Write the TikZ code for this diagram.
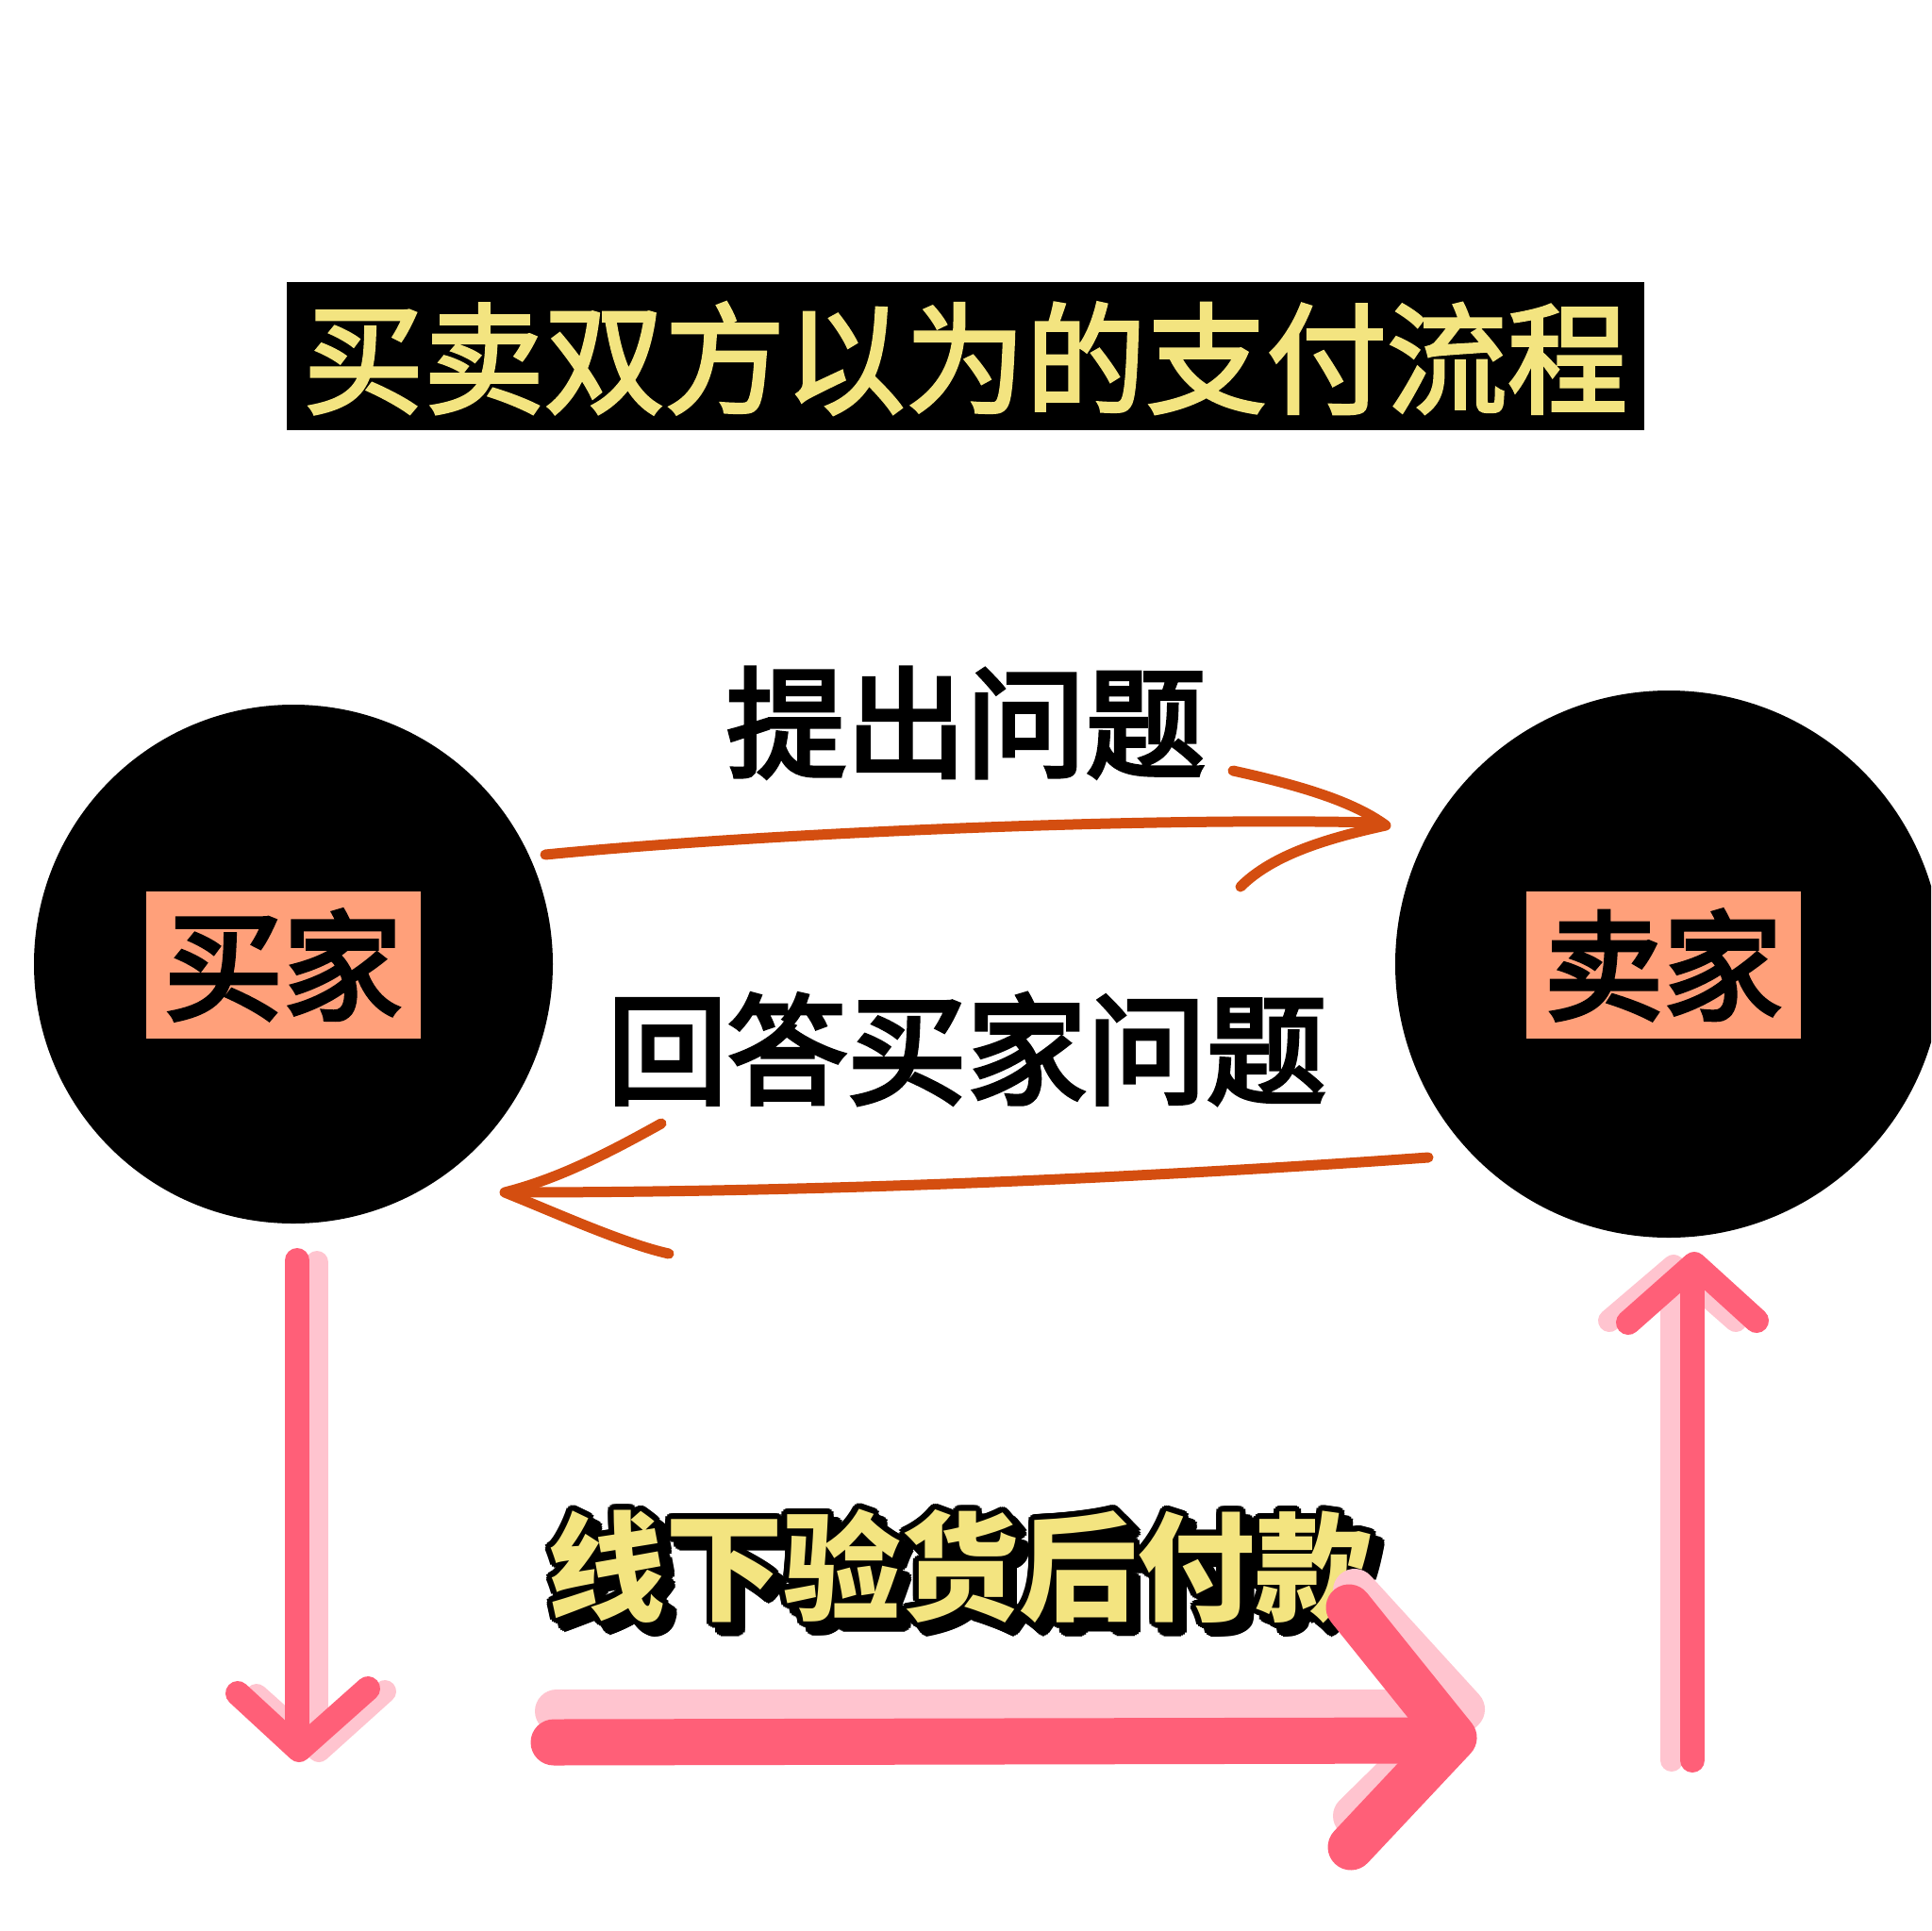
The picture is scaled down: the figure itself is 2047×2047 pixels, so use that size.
\documentclass[tikz,border=0pt]{standalone}
\usepackage{fontspec}
\newfontfamily\cjk{Noto Sans CJK SC}
\newfontfamily\cjkm{Noto Sans CJK SC}[FakeBold=3.5]
\newfontfamily\cjkt{Noto Sans CJK SC}[FakeBold=2.5]
\usetikzlibrary{calc}
\definecolor{ylw}{RGB}{243,228,128}
\definecolor{salmon}{RGB}{255,160,122}
\definecolor{orng}{RGB}{212,78,16}
\definecolor{pinkm}{RGB}{255,95,120}
\definecolor{pinks}{RGB}{255,196,207}
\tikzset{
  disc/.style={circle, fill=black, inner sep=0pt},
  tag/.style={fill=salmon, inner sep=0pt, minimum width=291pt, minimum height=156pt,
    font=\cjkm\fontsize{126}{126}\selectfont},
  said/.style={inner sep=0pt, font=\cjkm\fontsize{127}{127}\selectfont},
  btxt/.style={inner sep=0pt, font=\cjk\bfseries\fontsize{125}{125}\selectfont},
  oarrow/.style={draw=orng, line width=11pt, line cap=round, line join=round},
  pmain/.style={draw=pinkm, line width=26pt, line cap=round, line join=round},
  pshade/.style={draw=pinks, line width=24pt, line cap=round, line join=round},
  bmain/.style={draw=pinkm, line width=49pt, line cap=round, line join=round},
  bshade/.style={draw=pinks, line width=46pt, line cap=round, line join=round},
}
\newcommand\bottomwords{线下验货后付款}
\begin{document}
\begin{tikzpicture}[x=1pt,y=-1pt]
\useasboundingbox (0,0) rectangle (2047,2047);
\clip (0,0) rectangle (2047,2047);
\fill[white] (0,0) rectangle (2047,2047);

% circles
\node[disc, minimum size=550pt] (buyer) at (311,1022) {};
\node[disc, minimum size=580pt] (seller) at (1769,1022) {};
\node[tag] (buyerlabel) at (300,1023) {买家};
\node[tag] (sellerlabel) at (1763,1023) {卖家};

% title
\node[fill=black, minimum width=1439pt, minimum height=157pt, inner sep=0pt] (titlebox) at (1023.5,377.5) {};
\node[inner sep=0pt, text=ylw, font=\cjkt\fontsize{116}{116}\selectfont] (title) at (1023.5,380) {\scalebox{1.1}[1.1]{买卖双方以为的支付流程}};

% labels
\node[said] (ask) at (1024,766) {提出问题};
\node[said] (answer) at (1025,1112) {回答买家问题};

% bottom text with outline and shadow
\coordinate (bt) at (1018,1660);
\foreach \i in {0,...,15} {
  \node[btxt, text=black] (bs\i) at ($(bt)+(\i*22.5:6)+(9,9)$) {\bottomwords};
}
\foreach \i in {0,...,15} {
  \node[btxt, text=black] (bo\i) at ($(bt)+(\i*22.5:6)$) {\bottomwords};
}
\node[btxt, text=ylw] (bottomtext) at (bt) {\bottomwords};

% orange arrows
\coordinate (qa) at (578,906);
\coordinate (qb) at (1462,872);
\coordinate (qh1) at (1307,817);
\coordinate (qtip) at (1469,875);
\coordinate (qh2) at (1315,940);
\draw[oarrow] (qa) .. controls (800,884) and (1200,866) .. (qb);
\draw[oarrow] (qh1) .. controls (1380,833) and (1435,850) .. (qtip)
   .. controls (1410,888) and (1350,905) .. (qh2);

\coordinate (aa) at (1514,1227);
\coordinate (ab) at (542,1264);
\coordinate (ah1) at (701,1191);
\coordinate (atip) at (535,1264);
\coordinate (ah2) at (709,1329);
\draw[oarrow] (aa) .. controls (1250,1246) and (900,1264) .. (ab);
\draw[oarrow] (ah1) .. controls (640,1225) and (590,1250) .. (atip)
   .. controls (590,1286) and (660,1318) .. (ah2);

% left pink arrow (down)
\coordinate (ls1) at (336,1338);
\coordinate (ls2) at (336,1852);
\coordinate (lsb1) at (272,1797);
\coordinate (lst) at (338,1856);
\coordinate (lsb2) at (408,1793);
\draw[pshade] (ls1) -- (ls2);
\draw[pshade] (lsb1) -- (lst) -- (lsb2);
\coordinate (lm1) at (315,1336);
\coordinate (lm2) at (315,1852);
\coordinate (lmb1) at (252,1795);
\coordinate (lmt) at (317,1855);
\coordinate (lmb2) at (390,1790);
\draw[pmain] (lm1) -- (lm2);
\draw[pmain] (lmb1) -- (lmt) -- (lmb2);

% right pink arrow (up)
\coordinate (rs1) at (1772,1866);
\coordinate (rs2) at (1772,1345);
\coordinate (rsb1) at (1706,1400);
\coordinate (rst) at (1774,1342);
\coordinate (rsb2) at (1840,1400);
\draw[pshade] (rs1) -- (rs2);
\draw[pshade] (rsb1) -- (rst) -- (rsb2);
\coordinate (rm1) at (1794,1866);
\coordinate (rm2) at (1794,1342);
\coordinate (rmb1) at (1726,1402);
\coordinate (rmt) at (1796,1340);
\coordinate (rmb2) at (1862,1400);
\draw[pmain] (rm1) -- (rm2);
\draw[pmain] (rmb1) -- (rmt) -- (rmb2);

% bottom big arrow
\coordinate (bs1) at (590,1814);
\coordinate (bs2) at (1530,1814);
\coordinate (bsh1) at (1436,1686);
\coordinate (bst) at (1551,1812);
\coordinate (bsh2) at (1436,1925);
\draw[bshade] (bs1) -- (bs2);
\draw[bshade] (bsh1) -- (bst) -- (bsh2);
\coordinate (bm1) at (587,1847);
\coordinate (bm2) at (1520,1845);
\coordinate (bmh1) at (1430,1704);
\coordinate (bmt) at (1541,1842);
\coordinate (bmh2) at (1432,1958);
\draw[bmain] (bm1) -- (bm2);
\draw[bmain] (bmh1) -- (bmt) -- (bmh2);
\end{tikzpicture}
\end{document}
